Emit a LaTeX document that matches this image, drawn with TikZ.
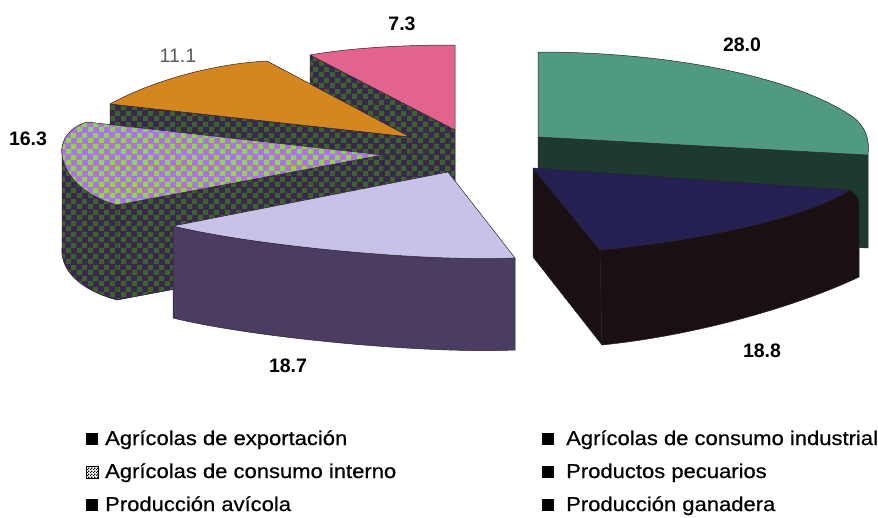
\documentclass[tikz,border=0pt]{standalone}
\usepackage{fontspec}
\setmainfont{Liberation Sans}
\newfontfamily\legfont{Liberation Sans}[FakeStretch=1.1,FakeBold=0.6]
\usetikzlibrary{patterns}
\pgfdeclarepatternformonly{checker}{\pgfpointorigin}{\pgfqpoint{11pt}{11pt}}{\pgfqpoint{11pt}{11pt}}{%
  \pgfpathrectangle{\pgfpointorigin}{\pgfqpoint{5.5pt}{5.5pt}}%
  \pgfpathrectangle{\pgfqpoint{5.5pt}{5.5pt}}{\pgfqpoint{5.5pt}{5.5pt}}%
  \pgfusepath{fill}}
\pgfdeclarepatternformonly{minichecker}{\pgfpointorigin}{\pgfqpoint{3pt}{3pt}}{\pgfqpoint{3pt}{3pt}}{%
  \pgfpathrectangle{\pgfpointorigin}{\pgfqpoint{1.5pt}{1.5pt}}%
  \pgfpathrectangle{\pgfqpoint{1.5pt}{1.5pt}}{\pgfqpoint{1.5pt}{1.5pt}}%
  \pgfusepath{fill}}
\definecolor{pinktop}{HTML}{E2648E}
\definecolor{orangetop}{HTML}{D4871E}
\definecolor{chkpurple}{HTML}{B46EE4}
\definecolor{chkgreen}{HTML}{8CD84C}
\definecolor{sidebase}{HTML}{3A2650}
\definecolor{sidegreen}{HTML}{3A6428}
\definecolor{lilactop}{HTML}{C9C2E8}
\definecolor{lilacside}{HTML}{4B3C62}
\definecolor{tealtop}{HTML}{4F9A80}
\definecolor{tealside}{HTML}{1D3A2F}
\definecolor{navytop}{HTML}{252052}
\definecolor{navyside}{HTML}{1A1014}
\definecolor{edge}{HTML}{2A2030}
\begin{document}
\begin{tikzpicture}[x=1pt,y=-1pt,
  face/.style={draw=edge,line width=0.5pt,line join=round},
  sidechk/.style={face,preaction={fill=sidebase},pattern=checker,pattern color=sidegreen},
  topchk/.style={face,preaction={fill=chkpurple},pattern=checker,pattern color=chkgreen},
  lbl/.style={font=\fontsize{19.5}{22}\selectfont\bfseries,text=black,inner sep=0pt},
  legtxt/.style={font=\legfont\fontsize{20}{24}\selectfont,anchor=base west,inner sep=0pt},
  legsq/.style={minimum size=12pt,inner sep=0pt,fill=black}]
\useasboundingbox (0,0) rectangle (878,517);
% ---------- left pie ----------
% pink slice (7.3)
\path[sidechk] (310,55) -- (455,130) -- (455,225) -- (310,150) -- cycle;
\path[face,fill=pinktop] (310,55) .. controls (350,48) and (400,45) .. (455,45) -- (455,130) -- cycle;
% orange slice (11.1)
\path[sidechk] (110,104) -- (410,137) -- (410,232) -- (110,199) -- cycle;
\path[face,fill=orangetop] (110,104) .. controls (150,82) and (210,64) .. (267,61) -- (410,137) -- cycle;
% checkered slice (16.3)
\path[sidechk] (62,148) .. controls (60,170) and (80,195) .. (117,205) -- (117,300)
   .. controls (80,290) and (60,270) .. (62,248) -- cycle;
\path[sidechk] (117,205) -- (383,155) -- (383,250) -- (117,300) -- cycle;
\path[topchk] (87,122) -- (383,155) -- (117,205) .. controls (80,195) and (60,170) .. (62,148)
   .. controls (63,135) and (75,125) .. (87,122) -- cycle;
% lilac slice (18.7)
\path[face,fill=lilacside] (173,226) .. controls (250,245) and (420,262) .. (515,258) -- (515,350)
   .. controls (420,354) and (250,337) .. (173,318) -- cycle;
\path[face,fill=lilactop] (173,226) -- (448,172) -- (515,258) .. controls (420,262) and (250,245) .. (173,226) -- cycle;
% ---------- right pie ----------
% teal slice (28.0)
\path[face,fill=tealside] (538,137) -- (868,155) -- (868,248) -- (538,232) -- cycle;
\path[face,fill=tealtop] (538,52) .. controls (680,52) and (800,80) .. (853,117)
   .. controls (866,127) and (870,140) .. (868,155) -- (538,137) -- cycle;
% navy slice (18.8)
\path[face,fill=navyside] (533,168) -- (600,250) -- (602,345) -- (533,257) -- cycle;
\path[face,fill=navyside] (600,250) .. controls (700,240) and (800,220) .. (850,190)
   .. controls (856,194) and (859,198) .. (859,204) -- (859,277)
   .. controls (800,305) and (700,335) .. (602,345) -- cycle;
\path[face,fill=navytop] (533,168) -- (850,190) .. controls (800,220) and (700,240) .. (600,250) -- cycle;
% ---------- value labels ----------
\node[lbl] (v73) at (402,24) {7.3};
\node[lbl,font=\fontsize{19.5}{22}\selectfont,text=black!65] (v111) at (178,56) {11.1};
\node[lbl] (v163) at (28,139) {16.3};
\node[lbl] (v187) at (288,366) {18.7};
\node[lbl] (v280) at (742,45) {28.0};
\node[lbl] (v188) at (762,351) {18.8};
% ---------- legend ----------
\node[legsq] (m1) at (92,438.5) {};
\node[legsq,fill=white,draw=black,line width=1pt,pattern=minichecker,pattern color=black] (m2) at (92,472) {};
\node[legsq] (m3) at (92,505) {};
\node[legsq] (m4) at (547.5,438.5) {};
\node[legsq] (m5) at (547.5,472) {};
\node[legsq] (m6) at (547.5,505) {};
\node[legtxt] (t1) at (105,445) {Agrícolas de exportación};
\node[legtxt] (t2) at (105,478) {Agrícolas de consumo interno};
\node[legtxt] (t3) at (105,511) {Producción avícola};
\node[legtxt] (t4) at (566,445) {Agrícolas de consumo industrial};
\node[legtxt] (t5) at (566,478) {Productos pecuarios};
\node[legtxt] (t6) at (566,511) {Producción ganadera};
\end{tikzpicture}
\end{document}
